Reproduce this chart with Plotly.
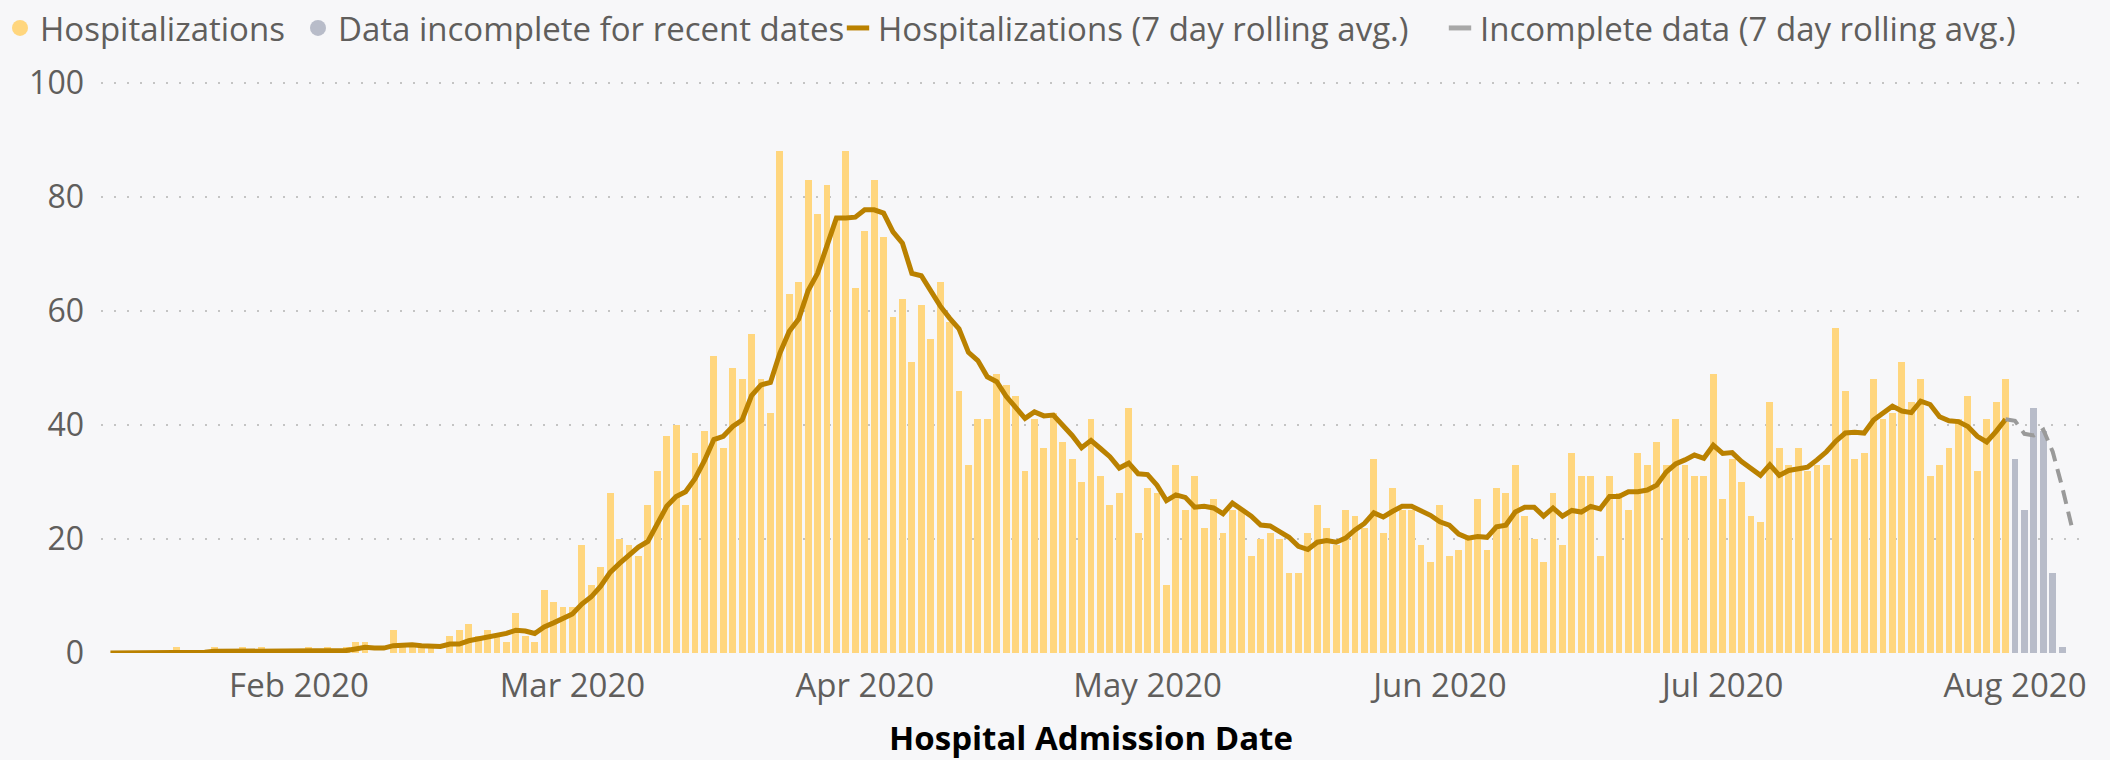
import pandas as pd
import plotly.graph_objects as go

# Daily hospitalizations (complete data), by month
start_date = "2020-01-12"
hosp_jan = [0, 0, 0, 0, 0, 0, 0, 1, 0, 0, 0, 1, 0, 0, 1, 0, 1, 0, 0, 0]  # Jan 12-31
hosp_feb = [0, 1, 0, 1, 0, 1, 2, 2, 0, 0, 4, 1, 1, 1, 1, 0, 3, 4, 5, 3, 4, 3, 2, 7, 3, 2, 11, 9, 8]
hosp_mar = [8, 19, 12, 15, 28, 20, 19, 17, 26, 32, 38, 40, 26, 35, 39, 52, 36, 50, 48, 56, 48, 42,
            88, 63, 65, 83, 77, 82, 76, 88, 64]
hosp_apr = [74, 83, 73, 59, 62, 51, 61, 55, 65, 58, 46, 33, 41, 41, 49, 47, 45, 32, 41, 36, 42, 37,
            34, 30, 41, 31, 26, 28, 43, 21]
hosp_may = [29, 28, 12, 33, 25, 31, 22, 27, 21, 25, 25, 17, 20, 21, 20, 14, 14, 21, 26, 22, 19, 25,
            24, 22, 34, 21, 29, 25, 25, 19, 16]
hosp_jun = [26, 17, 18, 20, 27, 18, 29, 28, 33, 24, 20, 16, 28, 19, 35, 31, 31, 17, 31, 28, 25, 35,
            33, 37, 33, 41, 33, 31, 31, 49]
hosp_jul = [27, 34, 30, 24, 23, 44, 36, 33, 36, 32, 33, 33, 57, 46, 34, 35, 48, 41, 42, 51, 44, 48,
            31, 33, 36, 41, 45, 32, 41, 44, 48]
# Incomplete recent dates (Aug 1-7)
hosp_incomplete = [34, 25, 43, 39, 14, 1, 0]

tick_dates = ["2020-02-01", "2020-03-01", "2020-04-01", "2020-05-01",
              "2020-06-01", "2020-07-01", "2020-08-01"]
tick_labels = ["Feb 2020", "Mar 2020", "Apr 2020", "May 2020", "Jun 2020", "Jul 2020", "Aug 2020"]
y_ticks = [0, 20, 40, 60, 80, 100]

complete = hosp_jan + hosp_feb + hosp_mar + hosp_apr + hosp_may + hosp_jun + hosp_jul
allvals = complete + hosp_incomplete
dates = pd.date_range(start_date, periods=len(allvals), freq="D")
n_c = len(complete)

roll = pd.Series(allvals).rolling(7, min_periods=1).mean()

YELLOW = "#FFD67E"
GRAY_BAR = "#B8BCC9"
GOLD = "#BA8100"
DASH_GRAY = "#9A9A9A"
TXT = "#605E5C"
FONT = "Open Sans"
DAY_MS = 86400000

fig = go.Figure()
fig.add_trace(go.Bar(x=dates[:n_c], y=complete, marker=dict(color=YELLOW, line=dict(width=0)),
                     width=0.74 * DAY_MS, showlegend=False, name="Hospitalizations"))
fig.add_trace(go.Bar(x=dates[n_c:], y=hosp_incomplete, marker=dict(color=GRAY_BAR, line=dict(width=0)),
                     width=0.74 * DAY_MS, showlegend=False, name="Data incomplete for recent dates"))
fig.add_trace(go.Scatter(x=dates[:n_c], y=roll[:n_c], mode="lines",
                         line=dict(color=GOLD, width=5), showlegend=False))
fig.add_trace(go.Scatter(x=dates[n_c - 1:], y=roll[n_c - 1:], mode="lines",
                         line=dict(color=DASH_GRAY, width=4, dash="14px,8px"), showlegend=False))

# legend entries (one legend each, placed like the reference)
legend_items = [
    ("Hospitalizations", dict(symbol="circle", size=19, color=YELLOW), "legend"),
    ("Data incomplete for recent dates", dict(symbol="circle", size=19, color=GRAY_BAR), "legend2"),
    ("Hospitalizations (7 day rolling avg.)",
     dict(symbol="line-ew-open", size=16, color=GOLD, line=dict(color=GOLD, width=5)), "legend3"),
    ("Incomplete data (7 day rolling avg.)",
     dict(symbol="line-ew-open", size=16, color="#A8A8A8", line=dict(color="#A8A8A8", width=5)), "legend4"),
]
for name, mk, lg in legend_items:
    fig.add_trace(go.Scatter(x=[None], y=[None], mode="markers", name=name, marker=mk,
                             legend=lg, showlegend=True))

legend_x_px = [-2, 298, 838, 1440]
leg_common = dict(orientation="h", xref="container", yref="container", y=1.0,
                  xanchor="left", yanchor="top", bgcolor="rgba(0,0,0,0)",
                  font=dict(size=33, color=TXT), itemwidth=30)

fig.update_layout(
    width=2110, height=760,
    margin=dict(l=101, r=29, t=77, b=107, autoexpand=False),
    paper_bgcolor="#F7F7F9", plot_bgcolor="#F7F7F9",
    font=dict(family=FONT, color=TXT, size=32),
    bargap=0,
    legend=dict(x=legend_x_px[0] / 2110, **leg_common),
    legend2=dict(x=legend_x_px[1] / 2110, **leg_common),
    legend3=dict(x=legend_x_px[2] / 2110, **leg_common),
    legend4=dict(x=legend_x_px[3] / 2110, **leg_common),
    xaxis=dict(type="date", range=["2020-01-11", "2020-08-08"],
               tickvals=tick_dates, ticktext=tick_labels, showgrid=False,
               showline=False, zeroline=False, ticks="", ticklabelstandoff=10,
               tickfont=dict(size=33, color=TXT),
               title=dict(text="<b>Hospital Admission Date</b>",
                          font=dict(size=33, color="#000000", family=FONT), standoff=22)),
    yaxis=dict(range=[0, 101], tickvals=y_ticks, showgrid=True, gridcolor="#C4C4C4",
               griddash="2px,11px", gridwidth=2, zeroline=False, showline=False,
               tickfont=dict(size=32, color=TXT), ticks="", ticklabelstandoff=16),
)

fig.write_html("out.html", config={"displayModeBar": False},
               post_script="document.body.style.margin='0';document.body.style.overflow='hidden';")
